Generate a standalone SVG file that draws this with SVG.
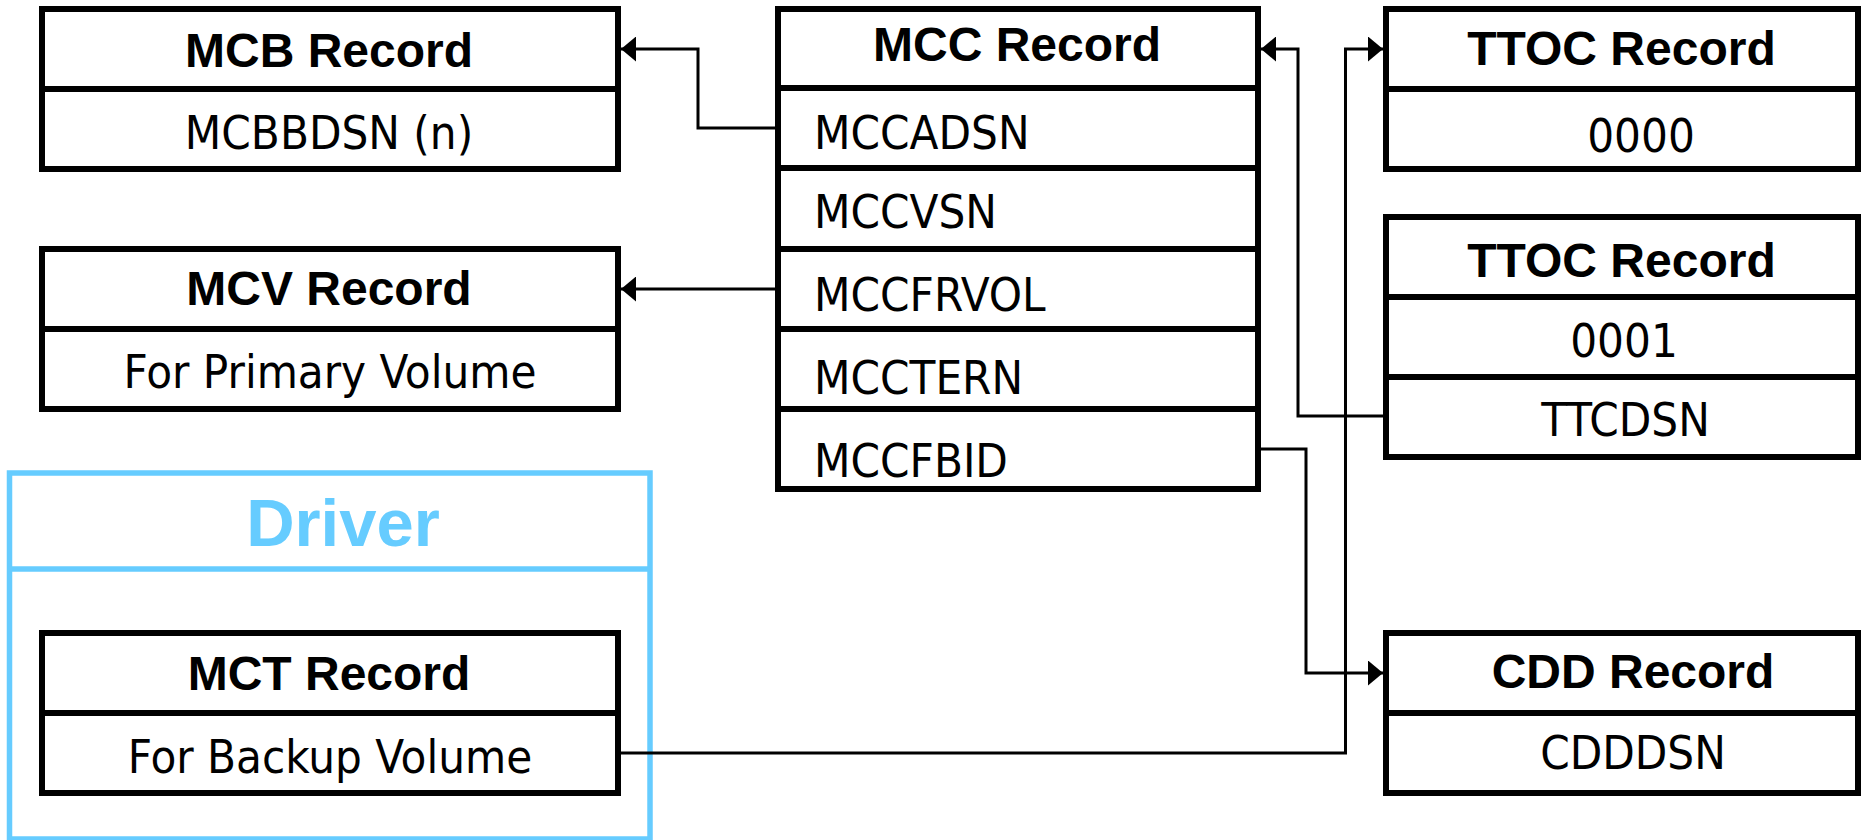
<svg xmlns="http://www.w3.org/2000/svg" width="1864" height="840" viewBox="0 0 1864 840">
<style>
.box{fill:#fff;stroke:#000;stroke-width:6}
.div{stroke:#000;stroke-width:6}
.hd{font-family:"Liberation Sans",Arial,sans-serif;font-weight:bold;font-size:48px;fill:#000;text-anchor:middle}
.tx{font-family:"DejaVu Sans Condensed","DejaVu Sans",sans-serif;font-stretch:condensed;font-size:47px;fill:#000;text-anchor:middle}
.lt{text-anchor:start}
.conn{fill:none;stroke:#000;stroke-width:3}
</style>
<defs>
<marker id="arr" markerUnits="userSpaceOnUse" markerWidth="15" markerHeight="25" refX="15" refY="12.5" orient="auto">
<path d="M0,0 L15,12.5 L0,25 Z" fill="#000"/>
</marker>
</defs>
<g id="driver">
<rect x="9.5" y="473" width="640.5" height="366" fill="#fff" stroke="#66CCFF" stroke-width="5.5"/>
<line x1="9.5" y1="569" x2="650" y2="569" stroke="#66CCFF" stroke-width="5.5"/>
<text x="343" y="546" font-family="Liberation Sans, Arial, sans-serif" font-weight="bold" font-size="67" fill="#66CCFF" text-anchor="middle">Driver</text>
</g>
<g id="mcb">
<rect class="box" x="42" y="9" width="576" height="160"/>
<line class="div" x1="42" y1="89" x2="618" y2="89"/>
<text class="hd" x="329" y="66.7">MCB Record</text>
<text class="tx" x="329" y="149.3">MCBBDSN (n)</text>
</g>
<g id="mcv">
<rect class="box" x="42" y="249" width="576" height="160"/>
<line class="div" x1="42" y1="329" x2="618" y2="329"/>
<text class="hd" x="329" y="305">MCV Record</text>
<text class="tx" x="330" y="388.3">For Primary Volume</text>
</g>
<g id="mct">
<rect class="box" x="42" y="633" width="576" height="160"/>
<line class="div" x1="42" y1="713" x2="618" y2="713"/>
<text class="hd" x="329" y="690">MCT Record</text>
<text class="tx" x="330" y="773.3">For Backup Volume</text>
</g>
<g id="mcc">
<rect class="box" x="778" y="9" width="480" height="480"/>
<line class="div" x1="778" y1="88" x2="1258" y2="88"/>
<line class="div" x1="778" y1="168" x2="1258" y2="168"/>
<line class="div" x1="778" y1="249" x2="1258" y2="249"/>
<line class="div" x1="778" y1="329" x2="1258" y2="329"/>
<line class="div" x1="778" y1="409" x2="1258" y2="409"/>
<text class="hd" x="1017" y="60.5">MCC Record</text>
<text class="tx lt" x="814" y="149.3">MCCADSN</text>
<text class="tx lt" x="814" y="227.7">MCCVSN</text>
<text class="tx lt" x="814" y="310.7">MCCFRVOL</text>
<text class="tx lt" x="814" y="394">MCCTERN</text>
<text class="tx lt" x="814" y="476.7">MCCFBID</text>
</g>
<g id="ttoc1">
<rect class="box" x="1386" y="9" width="472" height="160"/>
<line class="div" x1="1386" y1="89" x2="1858" y2="89"/>
<text class="hd" x="1621.5" y="65">TTOC Record</text>
<text class="tx" x="1641" y="151.7">0000</text>
</g>
<g id="ttoc2">
<rect class="box" x="1386" y="217" width="472" height="240"/>
<line class="div" x1="1386" y1="297" x2="1858" y2="297"/>
<line class="div" x1="1386" y1="377" x2="1858" y2="377"/>
<text class="hd" x="1621.5" y="276.7">TTOC Record</text>
<text class="tx" x="1624" y="356.7">0001</text>
<text class="tx" x="1625.5" y="436">TTCDSN</text>
</g>
<g id="cdd">
<rect class="box" x="1386" y="633" width="472" height="160"/>
<line class="div" x1="1386" y1="713" x2="1858" y2="713"/>
<text class="hd" x="1633" y="688.3">CDD Record</text>
<text class="tx" x="1633" y="769.3">CDDDSN</text>
</g>
<g id="connectors">
<path class="conn" d="M778,128 H698 V49 H621" marker-end="url(#arr)"/>
<path class="conn" d="M778,289 H621" marker-end="url(#arr)"/>
<path class="conn" d="M1383,416 H1298 V49 H1261" marker-end="url(#arr)"/>
<path class="conn" d="M621,753 H1345.5 V49 H1383" marker-end="url(#arr)"/>
<path class="conn" d="M1261,449 H1306 V673 H1383" marker-end="url(#arr)"/>
</g>
</svg>
